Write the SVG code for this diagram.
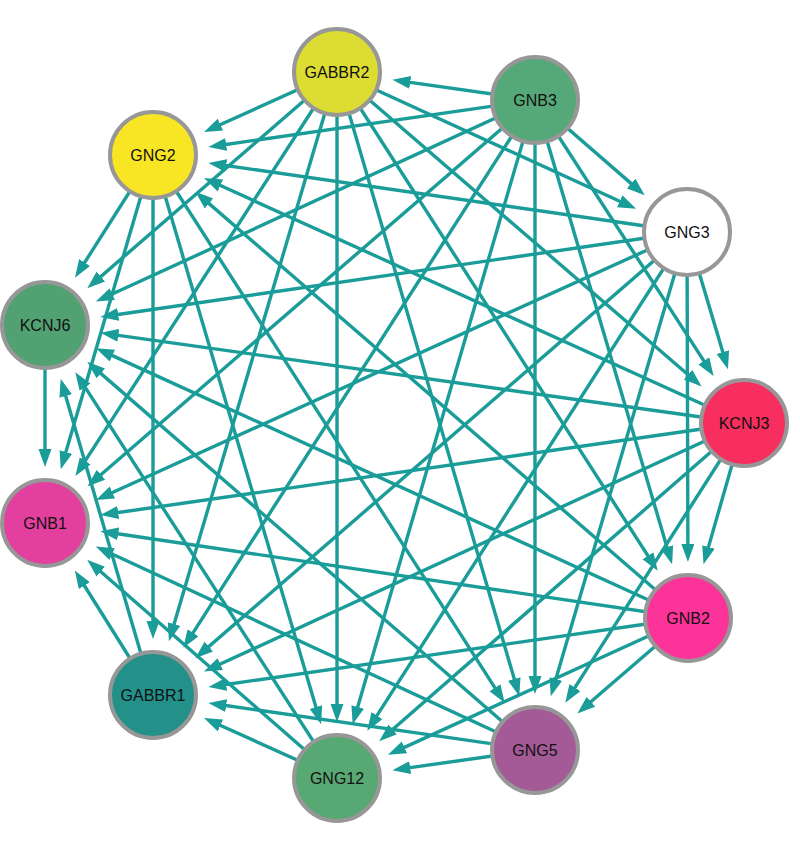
<svg xmlns="http://www.w3.org/2000/svg" width="800" height="850" viewBox="0 0 800 850">
<style>
.e{stroke:#1a9c99;stroke-width:3.4;fill:none;marker-end:url(#ah)}
.n circle{stroke:#979797;stroke-width:4}
.n text{font-family:"Liberation Sans",Arial,sans-serif;font-size:16px;fill:#111;text-anchor:middle}
</style>
<defs>
<marker id="ah" markerUnits="userSpaceOnUse" markerWidth="19" markerHeight="14" refX="9" refY="6.5" orient="auto">
<path d="M0,0 L18,6.5 L0,13 z" fill="#1a9c99"/>
</marker>
</defs>
<rect width="800" height="850" fill="#fff"/>
<g id="edges">
<line class="e" x1="535" y1="100" x2="401.3" y2="81.1"/>
<line class="e" x1="535" y1="100" x2="637.9" y2="189.4"/>
<line class="e" x1="535" y1="100" x2="708.7" y2="368.4"/>
<line class="e" x1="535" y1="100" x2="669.5" y2="555.7"/>
<line class="e" x1="535" y1="100" x2="217.3" y2="145.7"/>
<line class="e" x1="535" y1="100" x2="535" y2="685"/>
<line class="e" x1="535" y1="100" x2="355.2" y2="715.6"/>
<line class="e" x1="535" y1="100" x2="188.2" y2="640.3"/>
<line class="e" x1="535" y1="100" x2="104.1" y2="297.8"/>
<line class="e" x1="535" y1="100" x2="94.2" y2="480.5"/>

<line class="e" x1="337" y1="72" x2="627.9" y2="205.0"/>
<line class="e" x1="337" y1="72" x2="694.8" y2="380.5"/>
<line class="e" x1="337" y1="72" x2="652.8" y2="563.3"/>
<line class="e" x1="337" y1="72" x2="212.2" y2="128.3"/>
<line class="e" x1="337" y1="72" x2="516.8" y2="687.6"/>
<line class="e" x1="337" y1="72" x2="337" y2="713"/>
<line class="e" x1="337" y1="72" x2="171.5" y2="632.7"/>
<line class="e" x1="337" y1="72" x2="94.1" y2="282.4"/>
<line class="e" x1="337" y1="72" x2="80.3" y2="468.4"/>

<line class="e" x1="687" y1="232" x2="725.4" y2="360.7"/>
<line class="e" x1="687" y1="232" x2="687.9" y2="553"/>
<line class="e" x1="687" y1="232" x2="217.3" y2="164.3"/>
<line class="e" x1="687" y1="232" x2="553.3" y2="687.7"/>
<line class="e" x1="687" y1="232" x2="372.1" y2="723.2"/>
<line class="e" x1="687" y1="232" x2="202.1" y2="652.4"/>
<line class="e" x1="687" y1="232" x2="109.3" y2="315.7"/>
<line class="e" x1="687" y1="232" x2="104.2" y2="496.2"/>

<line class="e" x1="744" y1="423" x2="706.0" y2="555.6"/>
<line class="e" x1="744" y1="423" x2="212.2" y2="181.8"/>
<line class="e" x1="744" y1="423" x2="570.1" y2="695.2"/>
<line class="e" x1="744" y1="423" x2="386.0" y2="735.3"/>
<line class="e" x1="744" y1="423" x2="212.1" y2="667.8"/>
<line class="e" x1="744" y1="423" x2="109.4" y2="334.1"/>
<line class="e" x1="744" y1="423" x2="109.3" y2="513.8"/>

<line class="e" x1="688" y1="618" x2="202.2" y2="197.6"/>
<line class="e" x1="688" y1="618" x2="584.2" y2="707.5"/>
<line class="e" x1="688" y1="618" x2="396.2" y2="751.1"/>
<line class="e" x1="688" y1="618" x2="217.3" y2="685.7"/>
<line class="e" x1="688" y1="618" x2="104.2" y2="351.9"/>
<line class="e" x1="688" y1="618" x2="109.3" y2="532.5"/>

<line class="e" x1="153" y1="155" x2="499.8" y2="695.3"/>
<line class="e" x1="153" y1="155" x2="318.5" y2="715.7"/>
<line class="e" x1="153" y1="155" x2="153" y2="630"/>
<line class="e" x1="153" y1="155" x2="79.8" y2="270.1"/>
<line class="e" x1="153" y1="155" x2="63.3" y2="460.7"/>

<line class="e" x1="535" y1="750" x2="401.3" y2="768.9"/>
<line class="e" x1="535" y1="750" x2="217.3" y2="704.3"/>
<line class="e" x1="535" y1="750" x2="94.1" y2="367.6"/>
<line class="e" x1="535" y1="750" x2="104.0" y2="550.3"/>

<line class="e" x1="337" y1="778" x2="212.2" y2="721.7"/>
<line class="e" x1="337" y1="778" x2="80.2" y2="379.7"/>
<line class="e" x1="337" y1="778" x2="94.0" y2="565.7"/>

<line class="e" x1="153" y1="695" x2="63.2" y2="387.4"/>
<line class="e" x1="153" y1="695" x2="79.6" y2="578.0"/>

<line class="e" x1="45" y1="325" x2="45" y2="458"/>
</g>
<g id="GABBR2" class="n"><circle cx="337" cy="72" r="43" fill="#dcdc32"/><text x="337" y="78">GABBR2</text></g>
<g id="GNB3" class="n"><circle cx="535" cy="100" r="43" fill="#55a877"/><text x="535" y="106">GNB3</text></g>
<g id="GNG2" class="n"><circle cx="153" cy="155" r="43" fill="#f8e625"/><text x="153" y="161">GNG2</text></g>
<g id="GNG3" class="n"><circle cx="687" cy="232" r="43" fill="#ffffff"/><text x="687" y="238">GNG3</text></g>
<g id="KCNJ6" class="n"><circle cx="45" cy="325" r="43" fill="#52a173"/><text x="45" y="331">KCNJ6</text></g>
<g id="KCNJ3" class="n"><circle cx="744" cy="423" r="43" fill="#f72e5e"/><text x="744" y="429">KCNJ3</text></g>
<g id="GNB1" class="n"><circle cx="45" cy="523" r="43" fill="#e33f9e"/><text x="45" y="529">GNB1</text></g>
<g id="GNB2" class="n"><circle cx="688" cy="618" r="43" fill="#fc3399"/><text x="688" y="624">GNB2</text></g>
<g id="GABBR1" class="n"><circle cx="153" cy="695" r="43" fill="#23908a"/><text x="153" y="701">GABBR1</text></g>
<g id="GNG5" class="n"><circle cx="535" cy="750" r="43" fill="#a35a96"/><text x="535" y="756">GNG5</text></g>
<g id="GNG12" class="n"><circle cx="337" cy="778" r="43" fill="#58a874"/><text x="337" y="784">GNG12</text></g>
</svg>
